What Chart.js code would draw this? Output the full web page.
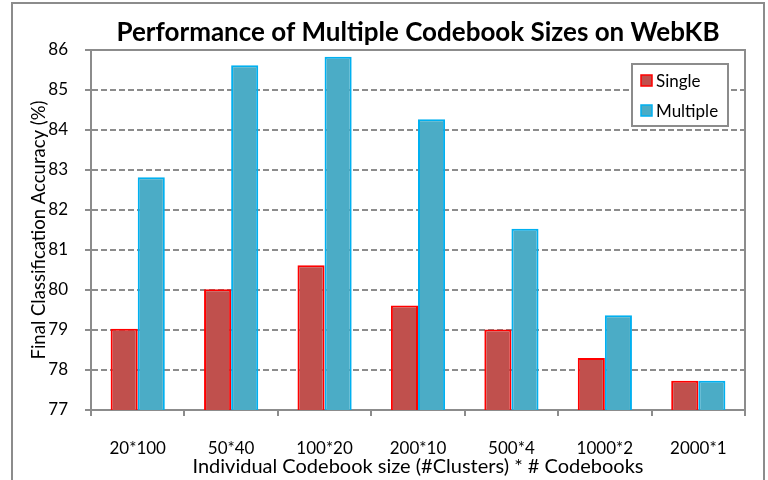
<!DOCTYPE html>
<html>
<head>
<meta charset="utf-8">
<script src="https://cdn.jsdelivr.net/npm/chart.js@4/dist/chart.umd.min.js"></script>
<style>
html,body{margin:0;padding:0;background:#fff;}
#wrap{width:768px;height:480px;position:relative;}
</style>
</head>
<body>
<div id="wrap"><canvas id="c" width="768" height="480"></canvas></div>
<script>
const categories = ["20*100","50*40","100*20","200*10","500*4","1000*2","2000*1"];
const singleValues = [79.03, 80.02, 80.62, 79.61, 79.01, 78.30, 77.73];
const multipleValues = [82.82, 85.62, 85.83, 84.27, 81.53, 79.37, 77.73];
const seriesNames = ["Single", "Multiple"];
const chartTitle = "Performance of Multiple Codebook Sizes on WebKB";
const xTitle = "Individual Codebook size (#Clusters) * # Codebooks";
const yTitle = "Final Classification Accuracy (%)";
const yMin = 77, yMax = 86, yStep = 1;

const FONT = "Lato, 'Open Sans', sans-serif";
const GRAY = "#8c8c8c";

const framePlugin = {
  id: 'frame',
  beforeDraw(chart) {
    const ctx = chart.ctx;
    ctx.save();
    ctx.fillStyle = '#fff';
    ctx.fillRect(0, 0, chart.width, chart.height);
    ctx.strokeStyle = GRAY;
    ctx.lineWidth = 2;
    ctx.strokeRect(12, 3, 752, 490);
    ctx.restore();
  },
  afterDraw(chart) {
    const ctx = chart.ctx;
    const a = chart.chartArea;
    ctx.save();
    ctx.strokeStyle = GRAY;
    ctx.lineWidth = 2;
    ctx.beginPath();
    ctx.moveTo(a.left, a.top);
    ctx.lineTo(a.right, a.top);
    ctx.lineTo(a.right, a.bottom);
    ctx.stroke();
    // title
    ctx.fillStyle = '#000';
    ctx.font = "bold 26px " + FONT;
    ctx.textAlign = 'center';
    ctx.textBaseline = 'middle';
    ctx.fillText(chartTitle, (a.left + a.right) / 2, 33);
    // legend
    const lx = 632, ly = 64, lw = 96, lh = 62;
    ctx.fillStyle = '#fff';
    ctx.fillRect(lx, ly, lw, lh);
    ctx.strokeStyle = GRAY;
    ctx.lineWidth = 2;
    ctx.strokeRect(lx, ly, lw, lh);
    ctx.font = "17px " + FONT;
    ctx.textAlign = 'left';
    chart.data.datasets.forEach((ds, i) => {
      const y = ly + 17 + i * 30;
      ctx.fillStyle = ds.backgroundColor;
      ctx.fillRect(lx + 9, y - 6, 11, 11);
      ctx.strokeStyle = ds.borderColor;
      ctx.lineWidth = 1.5;
      ctx.strokeRect(lx + 9, y - 6, 11, 11);
      ctx.fillStyle = '#000';
      ctx.fillText(ds.label, lx + 24, y + 1);
    });
    ctx.restore();
  }
};

new Chart(document.getElementById('c'), {
  type: 'bar',
  data: {
    labels: categories,
    datasets: [
      { label: seriesNames[0], data: singleValues, backgroundColor: '#C0504D', borderColor: '#FF0000', borderWidth: 2 },
      { label: seriesNames[1], data: multipleValues, backgroundColor: '#4BACC6', borderColor: '#00B0F0', borderWidth: 2 }
    ]
  },
  options: {
    responsive: false,
    animation: false,
    layout: { padding: { left: 0, top: 50, right: 23, bottom: 0 } },
    plugins: { legend: { display: false }, title: { display: false }, tooltip: { enabled: false } },
    datasets: { bar: { categoryPercentage: 0.58, barPercentage: 1.0 } },
    scales: {
      x: {
        afterFit(s) { s.height = 70; },
        grid: { display: true, drawOnChartArea: false, drawTicks: true, tickLength: 6, color: GRAY, lineWidth: 2, offset: true },
        border: { display: true, color: GRAY, width: 2 },
        ticks: { color: '#000', font: { family: FONT, size: 17 }, padding: 22 },
        title: { display: true, text: xTitle, color: '#000', font: { family: FONT, size: 20 }, padding: { top: 0, bottom: 1 } }
      },
      y: {
        min: yMin, max: yMax,
        afterFit(s) { s.width = 91; },
        grid: { color: GRAY, lineWidth: 2, tickLength: 6, tickBorderDash: [6, 3] },
        border: { display: true, color: GRAY, width: 2, dash: [6, 3] },
        ticks: { stepSize: yStep, color: '#000', font: { family: FONT, size: 17 }, padding: 17 },
        title: { display: true, text: yTitle, color: '#000', font: { family: FONT, size: 18.5 }, padding: { top: 28, bottom: 0 } }
      }
    }
  },
  plugins: [framePlugin]
});
</script>
</body>
</html>
